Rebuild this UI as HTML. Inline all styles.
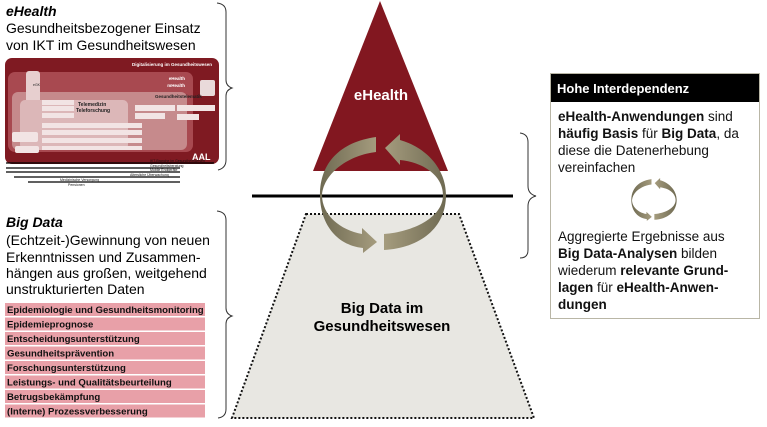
<!DOCTYPE html>
<html><head><meta charset="utf-8"><style>
html,body{margin:0;padding:0;background:#fff;}
svg{display:block;font-family:"Liberation Sans",Arial,sans-serif;}
</style></head><body>
<svg width="767" height="427" viewBox="0 0 767 427" xmlns="http://www.w3.org/2000/svg">
<defs>
<linearGradient id="ag" x1="0" y1="0" x2="1" y2="0"><stop offset="0" stop-color="#6f6a52"/><stop offset="1" stop-color="#a59c7e"/></linearGradient>
<linearGradient id="ag2" x1="1" y1="0" x2="0" y2="0"><stop offset="0" stop-color="#6f6a52"/><stop offset="1" stop-color="#a59c7e"/></linearGradient>
</defs>
<text x="6" y="16" font-size="14" font-weight="bold" font-style="italic">eHealth</text>
<text x="6" y="33" font-size="14">Gesundheitsbezogener Einsatz</text>
<text x="6" y="50" font-size="14">von IKT im Gesundheitswesen</text>

<rect x="5" y="58" width="214" height="106" rx="7" fill="#7f1a22"/>
<rect x="8" y="72" width="185" height="80" rx="7" fill="#a84950"/>
<rect x="12" y="92" width="175" height="58" rx="6" fill="#c68a8c"/>
<rect x="26" y="71" width="14" height="33" rx="3" fill="#e7cfcf"/>
<rect x="20" y="100" width="108" height="50" rx="5" fill="#dcb7b8"/>
<rect x="200" y="80" width="15" height="16" rx="2" fill="#e9dada"/>
<text x="212" y="66" font-size="4.5" fill="#fff" font-weight="bold" text-anchor="end">Digitalisierung im Gesundheitswesen</text>
<text x="185" y="80" font-size="4.5" fill="#fff" font-weight="bold" text-anchor="end">eHealth</text>
<text x="185" y="87" font-size="4.5" fill="#fff" font-weight="bold" text-anchor="end">mHealth</text>
<text x="155" y="98" font-size="4.5" fill="#222" font-weight="bold">Gesundheitstelematik</text>
<text x="33" y="86" font-size="3.5" fill="#222">eGK</text>
<rect x="42" y="100" width="32" height="5" fill="#f2e4e4"/>
<rect x="42" y="106" width="32" height="5" fill="#f2e4e4"/>
<rect x="42" y="113" width="32" height="5" fill="#f2e4e4"/>
<text x="78" y="106" font-size="5" font-weight="bold" fill="#222">Telemedizin</text>
<text x="76" y="112" font-size="5" font-weight="bold" fill="#222">Teleforschung</text>
<rect x="135" y="105" width="40" height="6" fill="#f2e4e4"/>
<rect x="177" y="105" width="38" height="6" fill="#f2e4e4"/>
<rect x="135" y="113" width="30" height="6" fill="#f2e4e4"/>
<rect x="177" y="114" width="22" height="6" fill="#f2e4e4"/>
<rect x="42" y="123" width="100" height="5" fill="#f2e4e4"/>
<rect x="42" y="130" width="100" height="5" fill="#f2e4e4"/>
<rect x="42" y="138" width="100" height="5" fill="#f2e4e4"/>
<rect x="42" y="146" width="100" height="4" fill="#f2e4e4"/>
<rect x="12" y="132" width="26" height="10" rx="2" fill="#f2e4e4"/>
<rect x="15" y="146" width="24" height="7" rx="2" fill="#f2e4e4"/>
<text x="192" y="160" font-size="9" fill="#fff" font-weight="bold">AAL</text>
<g stroke="#000" stroke-width="1.2">
<line x1="6" y1="163" x2="214" y2="163"/><line x1="6" y1="168" x2="180" y2="168"/>
<line x1="6" y1="172" x2="180" y2="172"/><line x1="14" y1="177" x2="180" y2="177"/>
<line x1="28" y1="182" x2="180" y2="182"/>
</g>
<g font-size="3.5" fill="#111"><text x="150" y="162">IKT-Branche im Gesundheitswesen</text><text x="150" y="167">Gesundheitsberatung</text><text x="150" y="171">Mobile Endgeräte</text><text x="130" y="176">Altersliche Überwachung</text><text x="60" y="181">Medizinische Versorgung</text><text x="68" y="186">Pensionen</text></g>

<path d="M217 3 Q226 4 226 12 L226 80 Q226 86 232 88 Q226 90 226 96 L226 160 Q226 168 218 170" fill="none" stroke="#333" stroke-width="1"/>
<path d="M217 211 Q226 212 226 220 L226 308 Q226 314 232 316 Q226 318 226 324 L226 409 Q226 417 218 418" fill="none" stroke="#333" stroke-width="1"/>

<text x="6" y="227" font-size="14" font-weight="bold" font-style="italic">Big Data</text>
<text x="6" y="245" font-size="14">(Echtzeit-)Gewinnung von neuen</text>
<text x="6" y="262" font-size="14">Erkenntnissen und Zusammen-</text>
<text x="6" y="278" font-size="14">hängen aus großen, weitgehend</text>
<text x="6" y="294" font-size="14">unstrukturierten Daten</text>
<g fill="#e8a0a8">
<rect x="5" y="303" width="200" height="13"/><rect x="5" y="317.5" width="200" height="13"/>
<rect x="5" y="332" width="200" height="13"/><rect x="5" y="346.5" width="200" height="13"/>
<rect x="5" y="361" width="200" height="13"/><rect x="5" y="375.5" width="200" height="13"/>
<rect x="5" y="390" width="200" height="13"/><rect x="5" y="404.5" width="200" height="13"/>
</g>
<g font-size="9.6" fill="#111" font-weight="bold">
<text x="7" y="313">Epidemiologie und Gesundheitsmonitoring</text>
<text x="7" y="327.5">Epidemieprognose</text>
<text x="7" y="342">Entscheidungsunterstützung</text>
<text x="7" y="356.5">Gesundheitsprävention</text>
<text x="7" y="371">Forschungsunterstützung</text>
<text x="7" y="385.5">Leistungs- und Qualitätsbeurteilung</text>
<text x="7" y="400">Betrugsbekämpfung</text>
<text x="7" y="414.5">(Interne) Prozessverbesserung</text>
</g>

<polygon points="380,1 448,171 313,171" fill="#821720"/>
<text x="381" y="100" font-size="15" font-weight="bold" fill="#fff" text-anchor="middle">eHealth</text>
<line x1="252" y1="196" x2="513" y2="196" stroke="#000" stroke-width="3"/>
<polygon points="306,214 459,214 534,418 232,418" fill="#e8e7e2" stroke="#111" stroke-width="2" stroke-dasharray="2,2"/>
<text x="382" y="313" font-size="15" font-weight="bold" text-anchor="middle">Big Data im</text>
<text x="382" y="331" font-size="15" font-weight="bold" text-anchor="middle">Gesundheitswesen</text>

<path d="M376,137 L376,152 C350,155 324,172 322,195 C322,215 340,230 362,234 L362,228 L377,242 L363,253 L363,248 C335,245 320,222 320,195 C320,163 340,142 376,137 Z" fill="url(#ag)"/>
<path d="M384,250 L384,234 C412,232 443,218 443,195 C443,175 422,162 400,160 L400,165 L385,148 L400,134 L400,140 C425,147 446,168 446,195 C446,228 420,248 384,250 Z" fill="url(#ag2)"/>

<path d="M520 133 Q528 134 528 142 L528 186 Q528 194 536 196 Q528 198 528 206 L528 250 Q528 258 520 258" fill="none" stroke="#333" stroke-width="1"/>

<rect x="550.5" y="73.5" width="209" height="245" fill="#fff" stroke="#b9b6a6" stroke-width="1"/>
<rect x="551" y="74" width="208" height="28" fill="#000"/>
<text x="557" y="93" font-size="13" font-weight="bold" fill="#fff">Hohe Interdependenz</text>
<g font-size="13.5" fill="#111">
<text x="558" y="121"><tspan font-weight="bold">eHealth-Anwendungen</tspan> sind</text>
<text x="558" y="138"><tspan font-weight="bold">häufig Basis</tspan> für <tspan font-weight="bold">Big Data</tspan>, da</text>
<text x="558" y="155">diese die Datenerhebung</text>
<text x="558" y="172">vereinfachen</text>
<text x="558" y="241">Aggregierte Ergebnisse aus</text>
<text x="558" y="258"><tspan font-weight="bold">Big Data-Analysen</tspan> bilden</text>
<text x="558" y="275">wiederum <tspan font-weight="bold">relevante Grund-</tspan></text>
<text x="558" y="292"><tspan font-weight="bold">lagen</tspan> für <tspan font-weight="bold">eHealth-Anwen-</tspan></text>
<text x="558" y="309" font-weight="bold">dungen</text>
</g>
<g transform="translate(654,200) scale(0.36) translate(-383,-195)">
<path d="M376,137 L376,152 C350,155 324,172 322,195 C322,215 340,230 362,234 L362,228 L377,242 L363,253 L363,248 C335,245 320,222 320,195 C320,163 340,142 376,137 Z" fill="url(#ag)"/>
<path d="M384,250 L384,234 C412,232 443,218 443,195 C443,175 422,162 400,160 L400,165 L385,148 L400,134 L400,140 C425,147 446,168 446,195 C446,228 420,248 384,250 Z" fill="url(#ag2)"/>
</g>
</svg>
</body></html>
